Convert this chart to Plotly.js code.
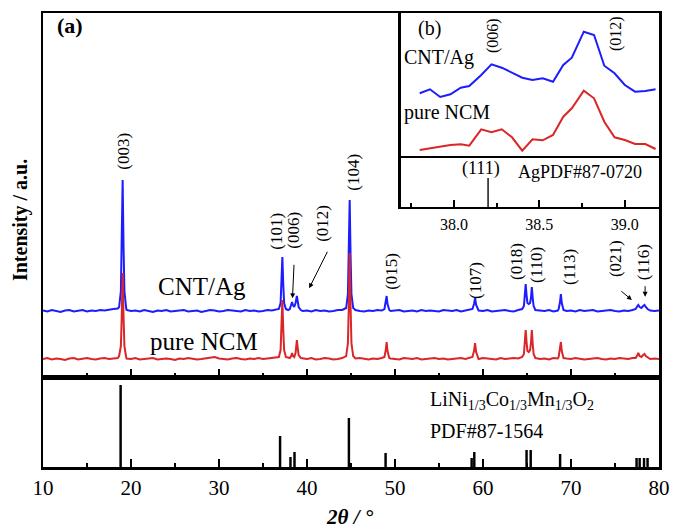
<!DOCTYPE html>
<html>
<head>
<meta charset="utf-8">
<script src="https://cdn.plot.ly/plotly-3.0.1.min.js"></script>
<style>html,body{margin:0;padding:0;background:#fff}#chart{width:674px;height:530px}</style>
</head>
<body>
<div id="chart"></div>
<script>
// ---------- Main XRD patterns (2θ in degrees, intensity in a.u.) ----------
const twoTheta = [
  10,10.5,11,11.5,12,12.5,13,13.5,14,14.5,15,15.5,16,16.5,17,17.5,18,18.5,
  18.65,18.85,18.95,19.05,19.15,19.25,19.45,
  19.5,20,20.5,21,21.5,22,22.5,23,23.5,24,24.5,25,25.5,26,26.5,27,27.5,28,28.5,29,29.5,30,30.5,31,31.5,32,32.5,33,33.5,34,34.5,35,35.5,36,36.5,
  36.8,37.0,37.1,37.2,37.3,37.4,37.6,
  37.85,38.05,38.2,38.3,38.4,38.55,38.7,38.78,38.85,38.92,39.05,39.3,
  39.5,40,40.5,41,41.5,42,42.5,43,43.5,44,
  44.45,44.65,44.75,44.85,44.95,45.05,45.25,
  45.5,46,46.5,47,47.5,48,48.5,
  48.8,48.95,49.05,49.15,49.35,
  49.5,50,50.5,51,51.5,52,52.5,53,53.5,54,54.5,55,55.5,56,56.5,57,57.5,58,58.5,
  58.8,58.98,59.1,59.22,59.45,
  59.5,60,60.5,61,61.5,62,62.5,63,63.5,64,
  64.45,64.65,64.75,64.85,64.95,65.05,65.2,65.35,65.45,65.55,65.65,65.75,65.95,
  66.5,67,67.5,68,68.5,
  68.6,68.75,68.85,68.95,69.15,
  69.5,70,70.5,71,71.5,72,72.5,73,73.5,74,74.5,75,75.5,76,76.5,77,
  77.35,77.55,77.65,77.8,78.0,78.2,78.35,78.5,78.7,
  79,79.5,80
];
const cntAgCounts = [
  0.5,-0.5,1,0,-1,0.5,1,-0.5,0,1,-0.5,0.5,0,1,0.5,1.5,2,2.5,
  4,20,66,131,66,20,3,
  1,0,0.5,-0.5,1,0,-1,0.5,0,1,-0.5,0,0.5,1,-0.5,0,0.5,-1,0,1,0.5,-0.5,0,1,0.5,0,-0.5,1,0,0.5,-0.5,0,1,0.5,1,
  2,8,27,54,27,8,2,
  1,2,6,9,6,4,8,12,15,11,4,1,
  0,0.5,-0.5,1,0,0.5,-0.5,0,1,1,
  3,17,56,111,56,17,3,
  1,0,-0.5,0.5,0,1,0.5,
  2,8,15,7,1,
  0,0.5,1,-0.5,0,0.5,-0.5,1,0,0.5,0,-0.5,1,0.5,0,1,-0.5,0.5,1,
  2,7,13,6,1,
  0.5,0,1,-0.5,0,0.5,1,0,-0.5,1,
  2,5,14,27,16,8,7,8,13,24,13,5,1,
  0.5,0,1,-0.5,0.5,
  2,9,17,8,1,
  0,0.5,-0.5,1,0,0.5,1,-0.5,0,0.5,1,0,-0.5,0.5,0,1,
  2,5,6,4,3,5,6,4,2,
  0.5,0,0.5
];
const pureNcmCounts = [
  0,1,-0.5,0.5,0,-1,0.5,1,-0.5,0,1,0,-0.5,0.5,1,0,0.5,1,
  3,13,43,86,43,13,2,
  0.5,0,1,-0.5,0,0.5,1,-0.5,0,0.5,0,-1,0.5,0,1,0.5,-0.5,0,0.5,1,2,0.5,0,-0.5,0.5,1,0,-0.5,0.5,0,1,0,0.5,1,1.5,
  2,9,30,59,30,9,2,
  1,1,3,6,3,2,6,14,19,13,4,1,
  0.5,0,1,-0.5,0,1,0.5,-0.5,0,1,
  3,16,53,106,53,16,3,
  0.5,1,0,-0.5,0.5,0,1,
  2,9,17,8,1,
  0.5,0,-0.5,1,0.5,0,1,-0.5,0,0.5,1,0,0.5,-0.5,0,0.5,1,0,1,
  2,8,16,7,1,
  0,1,0.5,0,-0.5,1,0,0.5,1,0.5,
  2,5,15,29,17,8,7,9,16,29,15,5,1,
  0,0.5,-0.5,1,0.5,
  2,9,17,8,1,
  0.5,0,1,0.5,-0.5,0,0.5,1,0,-0.5,0.5,0,1,0.5,0,1,
  1,4,6,3,2,4,5,3,2,
  0,0.5,0
];

// ---------- Reference pattern PDF#87-1564 ----------
const pdfNcmPos = [18.82,36.94,38.12,38.58,44.76,48.93,58.71,59.01,64.95,65.42,68.76,77.45,77.8,78.3,78.7];
const pdfNcmInt = [82,31,10,15,49,14,9,15,17,17,13,9,9,9,9];

// ---------- Peak labels ----------
const peakLabels = ['(003)','(101)','(006)','(012)','(104)','(015)','(107)','(018)','(110)','(113)','(021)','(116)'];
const labelPos2T = [19.05,36.45,38.38,41.68,45.2,49.53,59.09,63.75,66.03,69.78,75.01,78.2];
const labelPosY  = [226,146,147,154,205,106,97,115,112,110,118,115];

// ---------- Inset (b): zoom 37.7–39.2° ----------
const insetTheta = [37.80,37.86,37.92,37.98,38.04,38.09,38.16,38.22,38.28,38.34,38.40,38.46,38.52,38.58,38.64,38.69,38.76,38.82,38.88,38.94,39.00,39.06,39.12,39.18];
const insetCntAg = [9.7,13.7,6,8.7,15.3,17,28,38.7,35.3,30.3,25.3,23,24.7,21.3,38,45.3,71.3,68,37.3,29.7,18,11.3,12,13.7];
const insetPureNcm = [8,9.7,12,13,13.7,12.3,28.7,25.7,28.7,20.7,7.3,18.7,17.7,23,41.3,49.7,67.3,59.7,36.3,20.7,18,14,14,9];
const pdfAgPos = [38.2];
const pdfAgInt = [29];

// offsets used for stacking
const mainOffsetRed = 18, mainOffsetBlue = 66, insetOffsetBlue = 55;

const FONT = 'Liberation Serif, Times New Roman, serif';
const BLUE = 'rgb(28,28,255)', RED = 'rgb(218,38,38)';

const traces = [
  {x: twoTheta, y: cntAgCounts.map(v => v + mainOffsetBlue), xaxis:'x', yaxis:'y', type:'scatter', mode:'lines', line:{color:BLUE, width:2}},
  {x: twoTheta, y: pureNcmCounts.map(v => v + mainOffsetRed), xaxis:'x', yaxis:'y', type:'scatter', mode:'lines', line:{color:RED, width:2}},
  {x: pdfNcmPos, y: pdfNcmInt, xaxis:'x2', yaxis:'y2', type:'bar', width:0.28, marker:{color:'#000', line:{width:0}}},
  {x: insetTheta, y: insetCntAg.map(v => v + insetOffsetBlue), xaxis:'x3', yaxis:'y3', type:'scatter', mode:'lines', line:{color:BLUE, width:2}},
  {x: insetTheta, y: insetPureNcm, xaxis:'x3', yaxis:'y3', type:'scatter', mode:'lines', line:{color:RED, width:2}},
  {x: pdfAgPos, y: pdfAgInt, xaxis:'x4', yaxis:'y4', type:'bar', width:0.008, marker:{color:'#000', line:{width:0}}}
];

const frame = {showline:true, mirror:true, linecolor:'#000', linewidth:2.5, showgrid:false, zeroline:false};
const splitY = 0.1982;

const annotations = [];
peakLabels.forEach((t, i) => annotations.push({
  xref:'x', yref:'y', x: labelPos2T[i], y: labelPosY[i], text: t, textangle:-90,
  showarrow:false, xanchor:'center', yanchor:'middle', font:{family:FONT, size:17, color:'#000'}
}));
// arrows
[[38.35,78.7,1.6,-35],[40.24,88.7,19,-38],[76.92,77,-12,-10],[78.42,80.3,0,-12]].forEach(a => annotations.push({
  xref:'x', yref:'y', x:a[0], y:a[1], ax:a[2], ay:a[3], text:'', showarrow:true,
  arrowhead:2, arrowsize:1, arrowwidth:1, arrowcolor:'#000'
}));
const txt = (xref, yref, x, y, text, size, extra) => Object.assign({
  xref, yref, x, y, text, showarrow:false, xanchor:'center', yanchor:'middle',
  font:{family:FONT, size, color:'#000'}}, extra || {});
annotations.push(
  txt('x','y',28.03,91,'CNT/Ag',25),
  txt('x','y',28.26,36,'pure NCM',25),
  txt('x','y',11.31,352,'<b>(a)</b>',22,{xanchor:'left'}),
  txt('x2','y2',53.74,67,'LiNi<sub>1/3</sub>Co<sub>1/3</sub>Mn<sub>1/3</sub>O<sub>2</sub>',20,{xanchor:'left'}),
  txt('x2','y2',53.74,36,'PDF#87-1564',20,{xanchor:'left'}),
  txt('paper','paper',0.6282,0.9648,'(b)',20),
  txt('paper','paper',0.6429,0.9009,'CNT/Ag',20),
  txt('paper','paper',0.6558,0.7819,'pure NCM',20),
  txt('paper','paper',0.7305,0.9515,'(006)',16,{textangle:-90}),
  txt('paper','paper',0.9302,0.9537,'(012)',16,{textangle:-90}),
  txt('paper','paper',0.7110,0.6564,'(111)',18),
  txt('paper','paper',0.8718,0.6498,'AgPDF#87-0720',18),
  txt('paper','paper',-0.0373,0.544,'<b>Intensity / a.u.</b>',20,{textangle:-90}),
  txt('paper','paper',0.4984,-0.1101,'<b><i>2θ / °</i></b>',21)
);

const layout = {
  width:674, height:530,
  margin:{l:43, r:15, t:13, b:63},
  paper_bgcolor:'#fff', plot_bgcolor:'#fff',
  showlegend:false, hovermode:false,
  font:{family:FONT, color:'#000'},
  xaxis: Object.assign({}, frame, {domain:[0,1], anchor:'y', range:[10,80], ticks:'inside', ticklen:8, tickwidth:2, tick0:10, dtick:10,
    minor:{ticks:'inside', dtick:5, ticklen:4, tickwidth:2, tickcolor:'#000'}, tickcolor:'#000', showticklabels:false}),
  yaxis: Object.assign({}, frame, {domain:[splitY,1], anchor:'x', range:[0,364], ticks:'', showticklabels:false}),
  xaxis2: Object.assign({}, frame, {domain:[0,1], anchor:'y2', range:[10,80], ticks:'inside', ticklen:8, tickwidth:2, tick0:10, dtick:10,
    minor:{ticks:'inside', dtick:5, ticklen:4, tickwidth:2, tickcolor:'#000'}, tickcolor:'#000', showticklabels:true,
    tickfont:{family:FONT, size:21, color:'#000'}}),
  yaxis2: Object.assign({}, frame, {domain:[0,splitY], anchor:'x2', range:[0,90], ticks:'', showticklabels:false}),
  xaxis3: Object.assign({}, frame, {domain:[0.581,1], anchor:'y3', range:[37.69,39.2], ticks:'', showticklabels:false}),
  yaxis3: Object.assign({}, frame, {domain:[0.6806,1], anchor:'x3', range:[0,145], ticks:'', showticklabels:false}),
  xaxis4: Object.assign({}, frame, {domain:[0.581,1], anchor:'y4', range:[37.69,39.2], ticks:'inside', ticklen:7, tickwidth:2, tick0:38, dtick:0.5,
    minor:{ticks:'inside', dtick:0.25, ticklen:4, tickwidth:2, tickcolor:'#000'}, tickcolor:'#000', tickformat:'.1f',
    ticklabelstandoff:1, tickfont:{family:FONT, size:16, color:'#000'}}),
  yaxis4: Object.assign({}, frame, {domain:[0.5727,0.6806], anchor:'x4', range:[0,49], ticks:'', showticklabels:false}),
  annotations
};

Plotly.newPlot('chart', traces, layout, {displayModeBar:false, staticPlot:true});
</script>
</body>
</html>
